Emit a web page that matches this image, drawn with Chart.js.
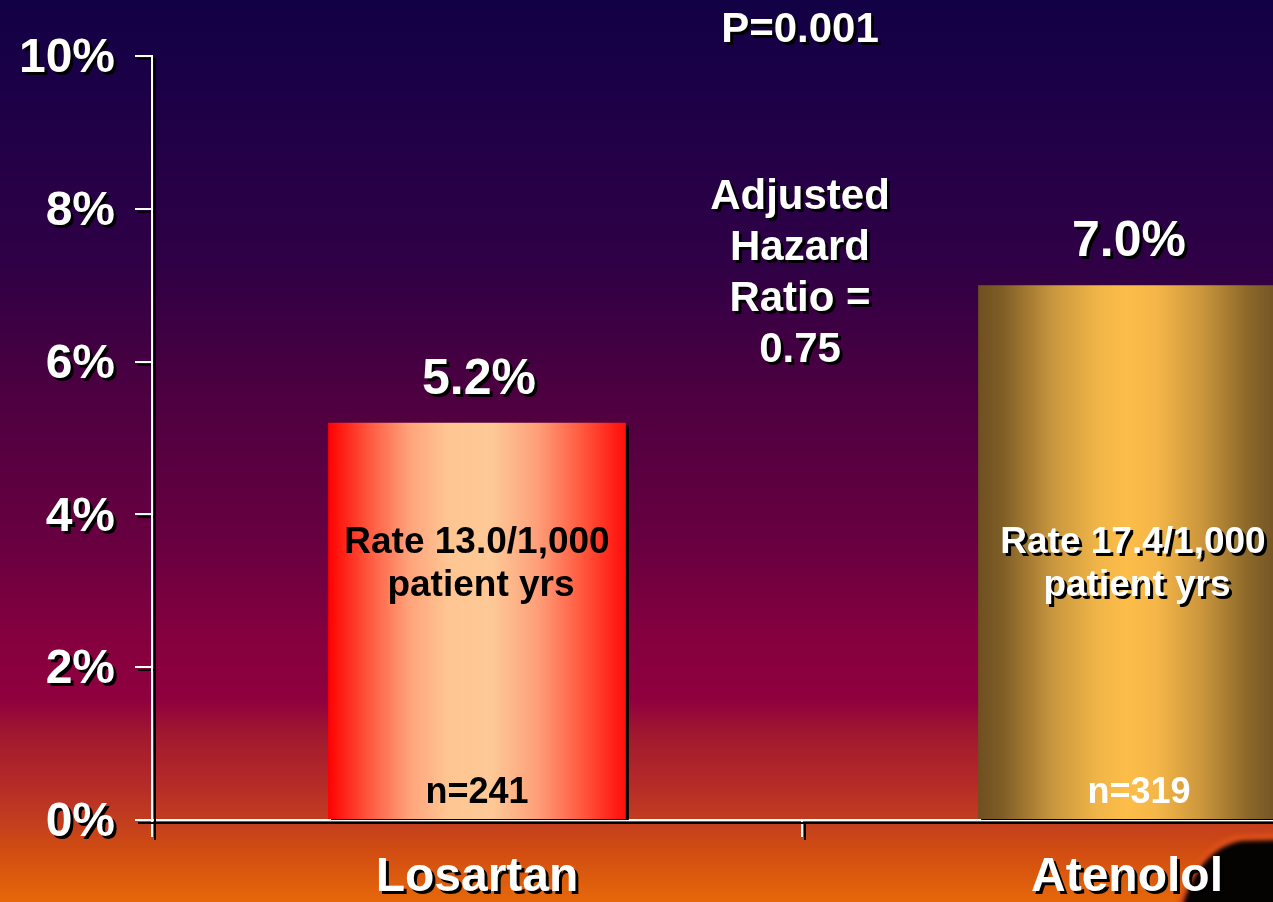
<!DOCTYPE html>
<html>
<head>
<meta charset="utf-8">
<script src="https://cdn.jsdelivr.net/npm/chart.js@4"></script>
<style>
  html, body { margin: 0; padding: 0; width: 1273px; height: 902px; overflow: hidden; background: #120045; }
  canvas { display: block; }
</style>
</head>
<body>
<canvas id="chart" width="1460" height="902"></canvas>
<script>
// ---- data ----
const categories = ['Losartan', 'Atenolol'];
const eventRates = [5.2, 7.0];
const valueLabels = ['5.2%', '7.0%'];
const rateText = [['Rate 13.0/1,000', 'patient yrs'], ['Rate 17.4/1,000', 'patient yrs']];
const sampleSizes = ['n=241', 'n=319'];
const yTickValues = [0, 2, 4, 6, 8, 10];
const pValueText = 'P=0.001';
const hazardText = ['Adjusted', 'Hazard', 'Ratio =', '0.75'];

// ---- styling ----
const FONT = "'Liberation Sans', Arial, sans-serif";
const BAR_FRACTION = 0.458;
const barStops = [
  [[0, '#ff0000'], [0.04, '#ff1a12'], [0.14, '#ff5a40'], [0.27, '#ffa27a'], [0.4, '#fec592'],
   [0.55, '#fdc996'], [0.7, '#fea07a'], [0.85, '#ff5a40'], [0.97, '#ff1a12'], [1, '#ff1010']],
  [[0, '#6e5020'], [0.08, '#7e5d26'], [0.25, '#c8963e'], [0.4, '#f0b548'], [0.5, '#fdbd48'],
   [0.6, '#f4b648'], [0.75, '#cc963c'], [0.9, '#8d6a2a'], [1, '#735424']]
];
const innerStyle = [
  { color: '#000000', shadow: false, dx: 0, nDx: 0 },
  { color: '#ffffff', shadow: true, dx: 6, nDx: 12 }
];

function setShadow(ctx, on, off) {
  ctx.shadowColor = on ? '#000000' : 'rgba(0,0,0,0)';
  ctx.shadowBlur = 0;
  ctx.shadowOffsetX = on ? (off || 3) : 0;
  ctx.shadowOffsetY = on ? (off || 3) : 0;
}

function barFill(c) {
  const chart = c.chart;
  const xs = chart.scales && chart.scales.x;
  if (!chart.chartArea || !xs) return barStops[c.dataIndex][4][1];
  const cx = xs.getPixelForValue(c.dataIndex);
  const w = (xs.width / categories.length) * BAR_FRACTION;
  const g = chart.ctx.createLinearGradient(cx - w / 2, 0, cx + w / 2, 0);
  barStops[c.dataIndex].forEach(([p, col]) => g.addColorStop(p, col));
  return g;
}

// slide background, dark silhouette in the corner, and the drop shadow used by axes and labels
const backdrop = {
  id: 'backdrop',
  beforeDraw(chart) {
    const ctx = chart.ctx;
    const W = chart.width, H = chart.height;
    setShadow(ctx, false);
    const g = ctx.createLinearGradient(0, 0, 0, H);
    [[0, '#120045'], [0.147, '#210048'], [0.296, '#300045'], [0.443, '#4e0040'],
     [0.61, '#6a0040'], [0.70, '#84003f'], [0.776, '#90003e'], [0.813, '#a0182f'],
     [0.868, '#b52a28'], [0.906, '#c03c20'], [0.942, '#d04c12'], [1, '#e6680a']]
      .forEach(([p, c]) => g.addColorStop(p, c));
    ctx.fillStyle = g;
    ctx.fillRect(0, 0, W, H);

    ctx.save();
    ctx.filter = 'blur(2px)';
    ctx.fillStyle = '#e0501c';
    ctx.beginPath();
    ctx.moveTo(1176, H + 5);
    ctx.quadraticCurveTo(1196, 842, 1240, 835);
    ctx.lineTo(W, 830);
    ctx.lineTo(W, H + 5);
    ctx.closePath();
    ctx.fill();
    ctx.fillStyle = '#050202';
    ctx.beginPath();
    ctx.moveTo(1182, H + 5);
    ctx.quadraticCurveTo(1200, 848, 1242, 841);
    ctx.lineTo(W, 836);
    ctx.lineTo(W, H + 5);
    ctx.closePath();
    ctx.fill();
    ctx.restore();

    setShadow(ctx, true, 3);
  },
  afterDraw(chart) {
    setShadow(chart.ctx, false);
  }
};

// value labels, inner rate text and the statistics annotation
const annotations = {
  id: 'annotations',
  afterDatasetsDraw(chart) {
    const ctx = chart.ctx;
    const meta = chart.getDatasetMeta(0);
    const xs = chart.scales.x;
    ctx.save();
    ctx.textAlign = 'center';
    ctx.textBaseline = 'alphabetic';

    meta.data.forEach((bar, i) => {
      const x = bar.x;
      setShadow(ctx, true, 3);
      ctx.fillStyle = '#ffffff';
      ctx.font = `bold 50px ${FONT}`;
      ctx.fillText(valueLabels[i], x + 2, bar.y - 29);

      const st = innerStyle[i];
      setShadow(ctx, st.shadow, 3);
      ctx.fillStyle = st.color;
      ctx.font = `bold 37px ${FONT}`;
      ctx.fillText(rateText[i][0], x + st.dx, 553);
      ctx.fillText(rateText[i][1], x + st.dx + 4, 596);
      setShadow(ctx, false);
      ctx.font = `bold 36px ${FONT}`;
      ctx.fillText(sampleSizes[i], x + st.nDx, 803);
    });

    const mid = (xs.getPixelForValue(0) + xs.getPixelForValue(1)) / 2;
    setShadow(ctx, true, 3);
    ctx.fillStyle = '#ffffff';
    ctx.font = `bold 42px ${FONT}`;
    ctx.fillText(pValueText, mid - 2, 42);
    hazardText.forEach((line, k) => ctx.fillText(line, mid - 2, 209 + k * 51));
    ctx.restore();
    setShadow(ctx, true, 3);
  }
};

new Chart(document.getElementById('chart'), {
  type: 'bar',
  data: {
    labels: categories,
    datasets: [{
      data: eventRates,
      backgroundColor: barFill,
      borderWidth: 0,
      categoryPercentage: 1,
      barPercentage: BAR_FRACTION
    }]
  },
  options: {
    responsive: false,
    animation: false,
    events: [],
    layout: { padding: { left: 0, top: 56, right: 8, bottom: 0 } },
    plugins: { legend: { display: false }, tooltip: { enabled: false } },
    scales: {
      x: {
        offset: true,
        grid: { display: true, offset: true, drawOnChartArea: false, drawTicks: true, tickLength: 17, color: '#ffffff', lineWidth: 2 },
        border: { display: true, color: '#ffffff', width: 2 },
        ticks: { color: '#ffffff', font: { family: FONT, size: 48, weight: 'bold' }, padding: 12, maxRotation: 0, autoSkip: false },
        afterFit(s) { s.height = 82; }
      },
      y: {
        min: 0,
        max: 10,
        afterBuildTicks(s) { s.ticks = yTickValues.map(v => ({ value: v })); },
        grid: { drawOnChartArea: false, drawTicks: true, tickLength: 17, color: '#ffffff', lineWidth: 2 },
        border: { display: true, color: '#ffffff', width: 2 },
        ticks: { color: '#ffffff', font: { family: FONT, size: 48, weight: 'bold' }, padding: 20, labelOffset: 3, callback: v => v + '%' },
        afterFit(s) { s.width = 152; }
      }
    }
  },
  plugins: [backdrop, annotations]
});
</script>
</body>
</html>
